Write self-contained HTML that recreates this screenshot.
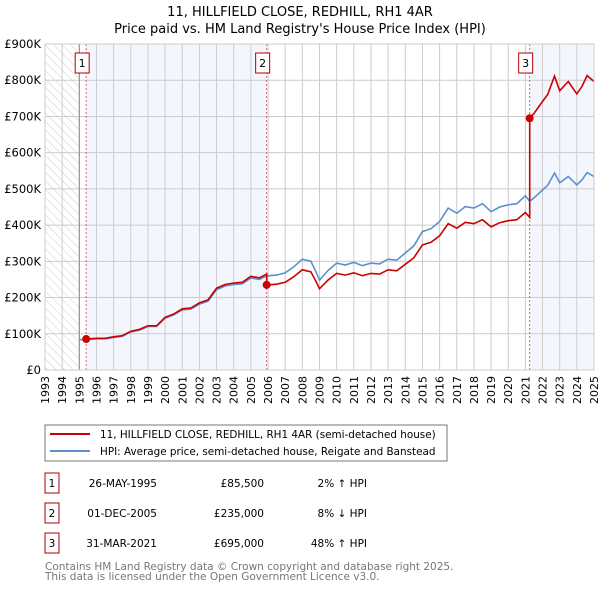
<!DOCTYPE html>
<html><head><meta charset="utf-8"><style>
body{margin:0;background:#fff;font-family:"DejaVu Sans","Liberation Sans",sans-serif;}
svg text{font-family:"DejaVu Sans","Liberation Sans",sans-serif;}
</style></head><body>
<svg id="c" width="600" height="590" viewBox="0 0 600 590">
<defs><pattern id="hatch" width="6" height="6" patternUnits="userSpaceOnUse" patternTransform="rotate(-45)"><line x1="0" y1="0" x2="0" y2="6" stroke="#ccc" stroke-width="1"/></pattern></defs>
<text x="300" y="16" text-anchor="middle" font-size="13">11, HILLFIELD CLOSE, REDHILL, RH1 4AR</text>
<text x="300" y="33" text-anchor="middle" font-size="13">Price paid vs. HM Land Registry's House Price Index (HPI)</text>
<g id="plot"></g>
<rect x="45" y="425" width="402" height="36" fill="#fff" stroke="#777"/>
<line x1="50" y1="434" x2="90" y2="434" stroke="#cc0000" stroke-width="2"/>
<text x="100" y="438" font-size="10.4">11, HILLFIELD CLOSE, REDHILL, RH1 4AR (semi-detached house)</text>
<line x1="50" y1="451" x2="90" y2="451" stroke="#5b8fd0" stroke-width="2"/>
<text x="100" y="455" font-size="10.4">HPI: Average price, semi-detached house, Reigate and Banstead</text>
<g id="table" font-size="10.5"></g>
<text x="45" y="570" font-size="10.5" fill="#777">Contains HM Land Registry data © Crown copyright and database right 2025.</text>
<text x="45" y="580" font-size="10.5" fill="#777">This data is licensed under the Open Government Licence v3.0.</text>
</svg>
<script>
const hpiYears=[1995.0,1995.4,1996,1996.5,1997,1997.5,1998,1998.5,1999,1999.5,2000,2000.5,2001,2001.5,2002,2002.5,2003,2003.5,2004,2004.5,2005,2005.5,2005.92,2006,2006.5,2007,2007.5,2008,2008.5,2008.8,2009,2009.5,2010,2010.5,2011,2011.5,2012,2012.5,2013,2013.5,2014,2014.5,2015,2015.5,2016,2016.5,2017,2017.5,2018,2018.5,2019,2019.5,2020,2020.5,2021,2021.25,2021.5,2022,2022.3,2022.7,2023,2023.5,2024,2024.3,2024.6,2025];
const hpiValues=[84,84,86,86,90,93,105,110,120,120,143,152,166,168,182,190,222,232,236,238,254,250,260,260,262,268,285,306,300,270,248,275,295,290,297,288,295,293,306,303,323,343,382,390,410,447,433,451,447,459,437,450,456,459,481,466,475,497,510,544,517,534,511,525,545,534];
const sales=[{n:"1",t:1995.4,v:85.5,date:"26-MAY-1995",price:"£85,500",rel:"2% ↑ HPI"},{n:"2",t:2005.92,v:235,date:"01-DEC-2005",price:"£235,000",rel:"8% ↓ HPI"},{n:"3",t:2021.25,v:695,date:"31-MAR-2021",price:"£695,000",rel:"48% ↑ HPI"}];
const yTicks=[0,100,200,300,400,500,600,700,800,900];
const yTickLabels=["£0","£100K","£200K","£300K","£400K","£500K","£600K","£700K","£800K","£900K"];
const NS="http://www.w3.org/2000/svg";
const X0=45,X1=594,Y0=370,Y1=44;
const xs=t=>X0+(t-1993)/(2025-1993)*(X1-X0);
const ys=v=>Y0-v/900*(Y0-Y1);
const g=document.getElementById('plot');
function mk(tag,at,parent){const e=document.createElementNS(NS,tag);for(const k in at)e.setAttribute(k,at[k]);(parent||g).appendChild(e);return e;}
let e;
e=mk('rect',{x:xs(1993),y:Y1,width:xs(1995)-xs(1993),height:Y0-Y1,fill:'url(#hatch)'});


e=mk('rect',{x:xs(sales[0].t),y:Y1,width:xs(sales[1].t)-xs(sales[0].t),height:Y0-Y1,fill:'#eef3fc',opacity:0.7});


e=mk('rect',{x:xs(sales[2].t),y:Y1,width:X1-xs(sales[2].t),height:Y0-Y1,fill:'#eef3fc',opacity:0.7});


for(let y=1993;y<=2025;y++){
 e=mk('line',{x1:xs(y),x2:xs(y),y1:Y1,y2:Y0,stroke:'#ccc','stroke-width':1});
 
 
 e=mk('text',{x:0,y:0,'font-size':11,'text-anchor':'end',transform:`translate(${xs(y)+4},${Y0+6}) rotate(-90)`});
 e.textContent=y;
 
 
}
yTicks.forEach((v,i)=>{
 e=mk('line',{x1:X0,x2:X1,y1:ys(v),y2:ys(v),stroke:'#ccc','stroke-width':1});
 
 
 e=mk('text',{x:X0-4,y:ys(v)+4,'font-size':11.5,'text-anchor':'end'});
 e.textContent=yTickLabels[i];
 
 
});
e=mk('line',{x1:xs(1995),x2:xs(1995),y1:Y1,y2:Y0,stroke:'#888','stroke-width':1});


sales.forEach(s=>{
 e=mk('line',{x1:xs(s.t),x2:xs(s.t),y1:Y1,y2:Y0,stroke:'#e06060','stroke-width':1,'stroke-dasharray':'2,2'});
 
 
});
let d='';hpiYears.forEach((t,i)=>{d+=(i?'L':'M')+xs(t).toFixed(1)+','+ys(hpiValues[i]).toFixed(1);});
e=mk('path',{d:d,fill:'none',stroke:'#5b8fd0','stroke-width':1.6});


function hpiAt(t){for(let i=1;i<hpiYears.length;i++){if(t<=hpiYears[i]){const a=hpiYears[i-1],b=hpiYears[i];return hpiValues[i-1]+(hpiValues[i]-hpiValues[i-1])*(t-a)/(b-a);}}return hpiValues[hpiValues.length-1];}
let pd='';
sales.forEach((s,k)=>{
 const end=k<sales.length-1?sales[k+1].t:2025;const r=s.v/hpiAt(s.t);
 pd+=(k?'L':'M')+xs(s.t).toFixed(1)+','+ys(s.v).toFixed(1);
 hpiYears.forEach((t,i)=>{if(t>s.t&&t<end)pd+='L'+xs(t).toFixed(1)+','+ys(hpiValues[i]*r).toFixed(1);});
 pd+='L'+xs(end).toFixed(1)+','+ys(hpiAt(end)*r).toFixed(1);
});
e=mk('path',{d:pd,fill:'none',stroke:'#cc0000','stroke-width':1.6});


sales.forEach(s=>{
 e=mk('circle',{cx:xs(s.t),cy:ys(s.v),r:4,fill:'#cc0000'});
 
 
 e=mk('rect',{x:xs(s.t)-11,y:53,width:14,height:20,fill:'#fff',stroke:'#b00000'});
 
 
 e=mk('text',{x:xs(s.t)-4,y:67,'font-size':11,'text-anchor':'middle'});
 e.textContent=s.n;
 
 
});
e=mk('rect',{x:X0,y:Y1,width:X1-X0,height:Y0-Y1,fill:'none',stroke:'#ccc'});


const tb=document.getElementById('table');
sales.forEach((s,i)=>{
 const cy=483+i*30;
 e=mk('rect',{x:45,y:cy-10,width:14,height:20,fill:'#fff',stroke:'#b00000'},tb);
 
 
 const cells=[[52,'middle',s.n,'table-index'],[157,'end',s.date,'table-date'],[264,'end',s.price,'table-price'],[367,'end',s.rel,'table-hpi-diff']];
 cells.forEach(c=>{e=mk('text',{x:c[0],y:cy+4,'text-anchor':c[1]},tb);e.textContent=c[2];
  
  });
});
</script>
</body></html>
